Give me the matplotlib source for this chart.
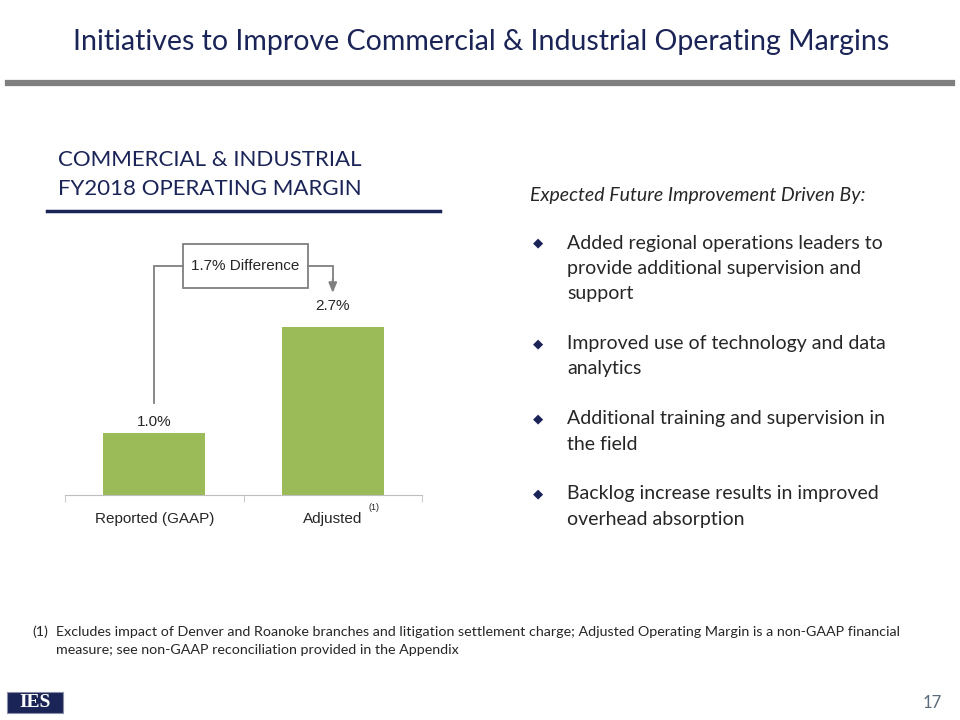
import matplotlib
matplotlib.use("Agg")
import matplotlib.pyplot as plt
from matplotlib.patches import Rectangle
from matplotlib.lines import Line2D

# data
categories = ["Reported (GAAP)", "Adjusted"]
margins = [1.0, 2.7]
value_labels = ["1.0%", "2.7%"]
diff_label = "1.7% Difference"

title = "Initiatives to Improve Commercial & Industrial Operating Margins"
chart_heading = ["COMMERCIAL & INDUSTRIAL", "FY2018 OPERATING MARGIN"]
right_heading = "Expected Future Improvement Driven By:"
bullets = [
    ["Added regional operations leaders to", "provide additional supervision and", "support"],
    ["Improved use of technology and data", "analytics"],
    ["Additional training and supervision in", "the field"],
    ["Backlog increase results in improved", "overhead absorption"],
]
footnote = ["(1)", "Excludes impact of Denver and Roanoke branches and litigation settlement charge; Adjusted Operating Margin is a non-GAAP financial",
            "measure; see non-GAAP reconciliation provided in the Appendix"]
page_no = "17"

NAVY = "#1b2457"
GREEN = "#9bbb59"
GRAY = "#7f7f7f"
TXT = "#262626"
CAL = "Lato"
ARIAL = "Liberation Sans"

W, H = 960, 720
fig = plt.figure(figsize=(9.6, 7.2), dpi=100)

def fx(px):
    return px / W

def fy(py):
    return 1 - py / H

# slide title + rule
fig.text(fx(481), fy(42), title, ha="center", va="center", fontsize=20.5,
         color=NAVY, family=CAL)
fig.add_artist(Line2D([fx(8), fx(952)], [fy(83), fy(83)], color=GRAY, lw=4.5))

# chart heading
fig.text(fx(58), fy(160), chart_heading[0], ha="left", va="center", fontsize=16,
         color=NAVY, family=CAL)
fig.text(fx(58), fy(189), chart_heading[1], ha="left", va="center", fontsize=16,
         color=NAVY, family=CAL)
fig.add_artist(Line2D([fx(47), fx(440)], [fy(211), fy(211)], color=NAVY, lw=2.5))

# bar chart
ax = fig.add_axes([fx(65), fy(495), fx(422 - 65), (495 - 230) / H])
x = list(range(len(categories)))
ax.bar(x, margins, width=0.57, color=GREEN)
ax.set_xlim(-0.5, len(categories) - 0.5)
ax.set_ylim(0, 4.26)
for s in ["left", "top", "right"]:
    ax.spines[s].set_visible(False)
ax.spines["bottom"].set_color("#bfbfbf")
ax.set_yticks([])
ax.set_xticks(x)
ax.set_xticklabels(categories, fontsize=11, family=ARIAL, color=TXT)
ax.tick_params(axis="x", length=0, pad=12)
ax.set_xticks([i - 0.5 for i in range(len(categories) + 1)], minor=True)
ax.tick_params(axis="x", which="minor", length=5, color="#bfbfbf", direction="out")

label_pads = [8, 15]
for xi, v, lab, pad in zip(x, margins, value_labels, label_pads):
    ax.annotate(lab, (xi, v), xytext=(0, pad), textcoords="offset points",
                ha="center", va="center", fontsize=11, family=ARIAL, color=TXT)

ax.annotate("(1)", (1.23, 0), xycoords=("data", "axes fraction"), xytext=(0, -9),
            textcoords="offset points", ha="center", va="center", fontsize=6.5,
            family=ARIAL, color=TXT, annotation_clip=False)

# difference bracket
box_x0, box_x1 = 0.16, 0.86
box_y0, box_y1 = 3.33, 4.03
box_mid = (box_y0 + box_y1) / 2
ax.add_patch(Rectangle((box_x0, box_y0), box_x1 - box_x0, box_y1 - box_y0,
                       fill=False, edgecolor=GRAY, lw=1.3, clip_on=False))
ax.text((box_x0 + box_x1) / 2, box_mid, diff_label, ha="center", va="center",
        fontsize=11, family=ARIAL, color=TXT)
ax.plot([box_x0, x[0], x[0]], [box_mid, box_mid, margins[0] + 0.48],
        color=GRAY, lw=1.3, clip_on=False, solid_joinstyle="miter")
ax.plot([box_x1, x[1], x[1]], [box_mid, box_mid, margins[1] + 0.75],
        color=GRAY, lw=1.3, clip_on=False, solid_joinstyle="miter")
ax.annotate("", xy=(x[1], margins[1] + 0.55), xytext=(x[1], margins[1] + 0.76),
            arrowprops=dict(arrowstyle="-|>,head_length=0.6,head_width=0.25",
                            color=GRAY, lw=1.3, shrinkA=0, shrinkB=0),
            annotation_clip=False)

# right-hand text
fig.text(fx(530), fy(195), right_heading, ha="left", va="center", fontsize=14,
         style="italic", color=TXT, family=CAL)
y = 243
for group in bullets:
    fig.text(fx(538), fy(y), "\u25c6", ha="center", va="center", fontsize=9.5,
             color=NAVY, family="DejaVu Sans")
    for line in group:
        fig.text(fx(567), fy(y), line, ha="left", va="center", fontsize=14,
                 color=TXT, family=CAL)
        y += 25.5
    y += 24

# footnote
fig.text(fx(32), fy(632), footnote[0], ha="left", va="center", fontsize=10.3,
         color=TXT, family=CAL)
fig.text(fx(56), fy(632), footnote[1], ha="left", va="center", fontsize=10.3,
         color=TXT, family=CAL)
fig.text(fx(56), fy(650), footnote[2], ha="left", va="center", fontsize=10.3,
         color=TXT, family=CAL)

# logo and page number
fig.add_artist(Rectangle((fx(7), fy(713)), fx(56), (713 - 692) / H,
                         facecolor=NAVY, edgecolor="#8a8fa8", lw=0.8,
                         transform=fig.transFigure))
fig.text(fx(35), fy(702.5), "IES", ha="center", va="center", fontsize=14,
         weight="bold", color="white", family="Liberation Serif")
fig.text(fx(942), fy(703), page_no, ha="right", va="center", fontsize=12,
         color="#5a6b7b", family=CAL)

fig.savefig("out.png", dpi=100, facecolor="white")
